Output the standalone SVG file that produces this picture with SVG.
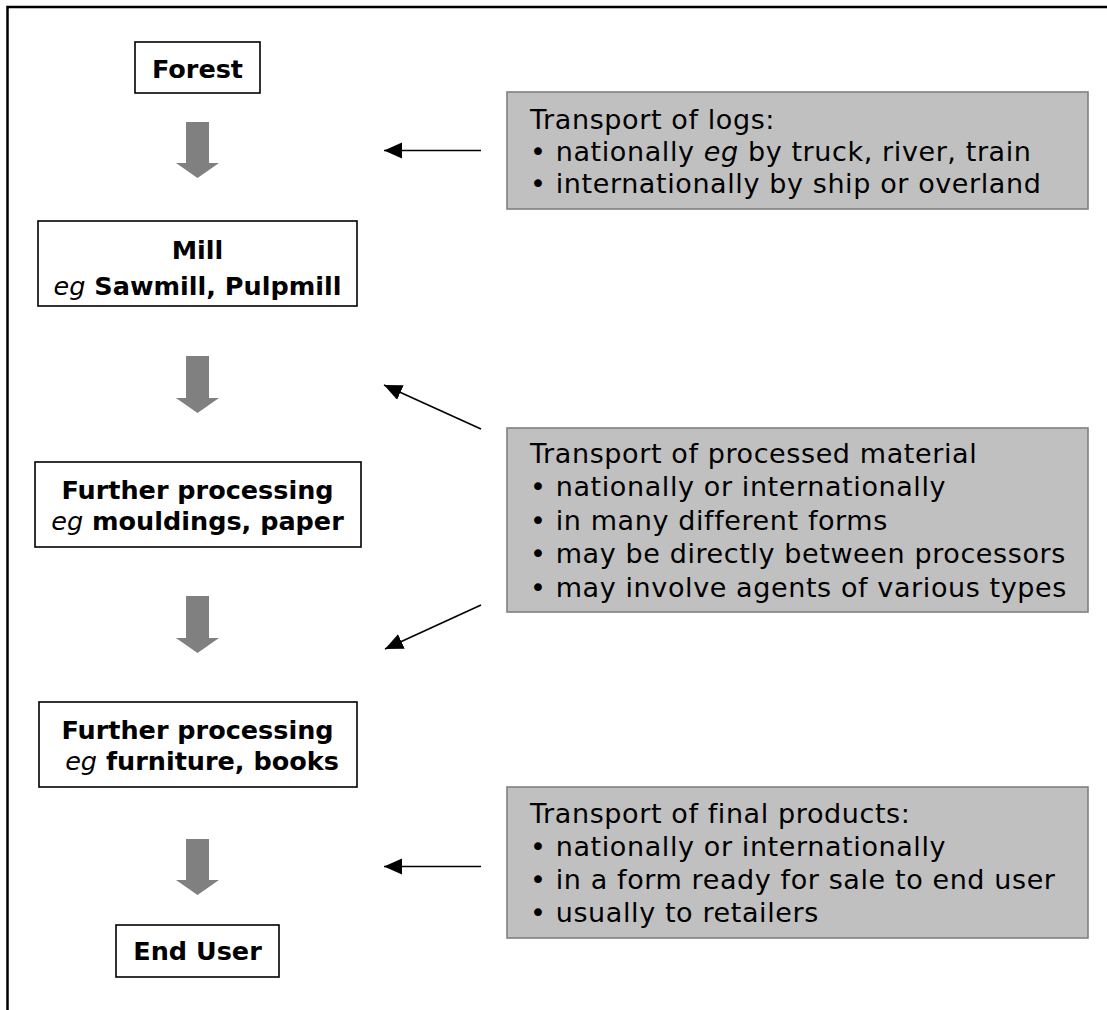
<svg xmlns="http://www.w3.org/2000/svg" width="1107" height="1010" viewBox="0 0 1107 1010">
<style>
.frame{fill:none;stroke:#000;stroke-width:2.5}
.node rect{fill:#fff;stroke:#000;stroke-width:1.6}
.node text{font-family:"DejaVu Sans","Verdana",sans-serif;font-weight:bold;font-size:25.5px;fill:#000;text-anchor:middle}
.note rect{fill:#c0c0c0;stroke:#808080;stroke-width:1.6}
.note text{font-family:"DejaVu Sans","Verdana",sans-serif;font-size:27px;letter-spacing:0.6px;fill:#000}
.flow{fill:#808080}
.conn{stroke:#000;stroke-width:1.6;fill:none;marker-end:url(#ah)}
</style>
<defs>
<marker id="ah" markerUnits="userSpaceOnUse" markerWidth="20" markerHeight="18" refX="18" refY="8" orient="auto">
<path d="M0,0 L18,8 L0,16 Z" fill="#000"/>
</marker>
</defs>
<rect width="1107" height="1010" fill="#fff"/>
<path class="frame" d="M7.5,1010 V7 H1107"/>

<g id="node-forest" class="node">
<rect x="135" y="42" width="125" height="51"/>
<text x="197.5" y="78">Forest</text>
</g>
<g id="node-mill" class="node">
<rect x="38" y="221" width="319" height="85"/>
<text x="197.5" y="259">Mill</text>
<text x="197.5" y="295"><tspan font-style="italic" font-weight="normal">eg</tspan> Sawmill, Pulpmill</text>
</g>
<g id="node-further1" class="node">
<rect x="35" y="462" width="326" height="85"/>
<text x="197.5" y="499">Further processing</text>
<text x="197.5" y="530"><tspan font-style="italic" font-weight="normal">eg</tspan> mouldings, paper</text>
</g>
<g id="node-further2" class="node">
<rect x="39" y="702" width="318" height="85"/>
<text x="197.5" y="739">Further processing</text>
<text x="202" y="770"><tspan font-style="italic" font-weight="normal">eg</tspan> furniture, books</text>
</g>
<g id="node-enduser" class="node">
<rect x="116" y="925" width="163" height="52"/>
<text x="197.5" y="960">End User</text>
</g>

<g id="note-logs" class="note">
<rect x="507" y="92" width="581" height="117"/>
<text x="530" y="129">Transport of logs:</text>
<text x="530" y="161">• nationally <tspan font-style="italic">eg</tspan> by truck, river, train</text>
<text x="530" y="193">• internationally by ship or overland</text>
</g>
<g id="note-processed" class="note">
<rect x="507" y="428" width="581" height="184"/>
<text x="530" y="463">Transport of processed material</text>
<text x="530" y="496">• nationally or internationally</text>
<text x="530" y="530">• in many different forms</text>
<text x="530" y="563">• may be directly between processors</text>
<text x="530" y="597">• may involve agents of various types</text>
</g>
<g id="note-final" class="note">
<rect x="507" y="787" width="581" height="151"/>
<text x="530" y="823">Transport of final products:</text>
<text x="530" y="856">• nationally or internationally</text>
<text x="530" y="889">• in a form ready for sale to end user</text>
<text x="530" y="922">• usually to retailers</text>
</g>

<g id="connectors">
<path class="flow" d="M186,122 H209 V163 H219 L197.5,178 L176,163 H186 Z"/>
<path class="flow" d="M186,356 H209 V398 H219 L197.5,413 L176,398 H186 Z"/>
<path class="flow" d="M186,596 H209 V638 H219 L197.5,653 L176,638 H186 Z"/>
<path class="flow" d="M186,839 H209 V880 H219 L197.5,895 L176,880 H186 Z"/>
<line class="conn" x1="481" y1="150.5" x2="384" y2="150.5"/>
<line class="conn" x1="481" y1="429" x2="384" y2="385"/>
<line class="conn" x1="481" y1="605" x2="385" y2="649"/>
<line class="conn" x1="481" y1="866.5" x2="384" y2="866.5"/>
</g>
</svg>
